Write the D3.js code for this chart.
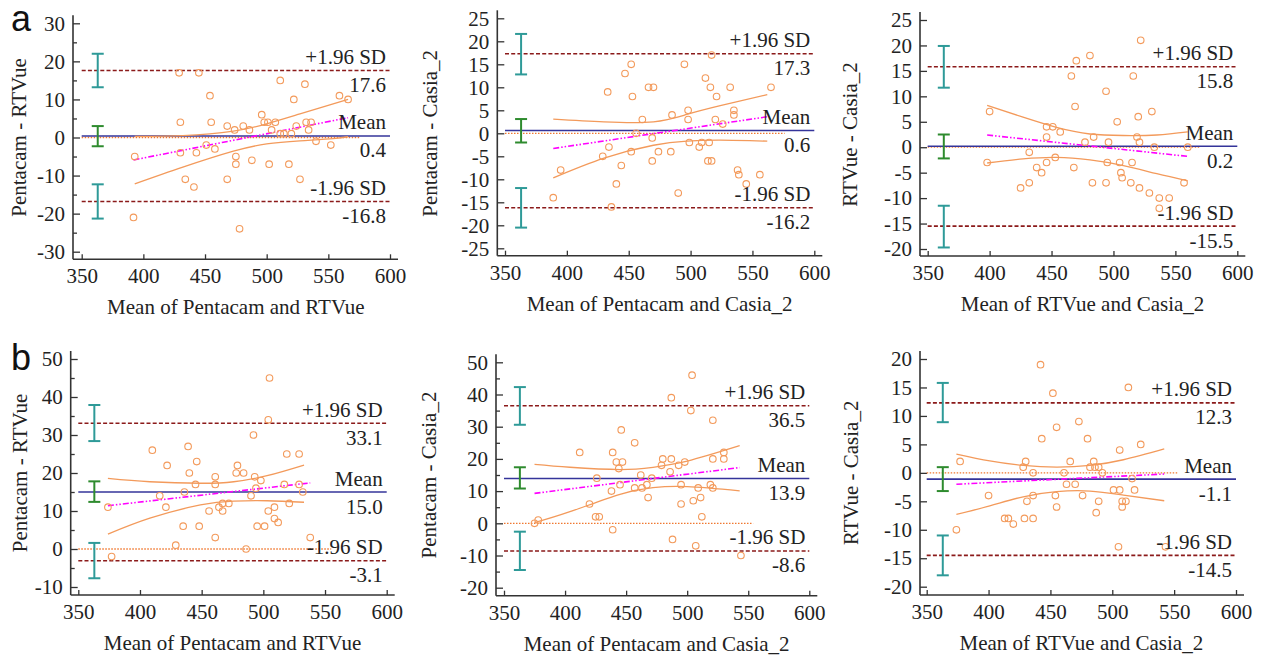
<!DOCTYPE html>
<html>
<head>
<meta charset="utf-8">
<script src="https://cdn.jsdelivr.net/npm/d3@7"></script>
<style>
  html, body { margin: 0; padding: 0; background: #fff; }
  svg { display: block; }
  text { font-family: "Liberation Serif", "Times New Roman", serif; fill: #222; }
</style>
</head>
<body>
<svg id="chart" width="1261" height="655"></svg>
<script>
// ---------------- DATA ----------------
const xTicks = [350, 400, 450, 500, 550, 600];
const xTitles = ["Mean of Pentacam and RTVue", "Mean of Pentacam and Casia_2", "Mean of RTVue and Casia_2",
                 "Mean of Pentacam and RTVue", "Mean of Pentacam and Casia_2", "Mean of RTVue and Casia_2"];
const yTitles = ["Pentacam - RTVue", "Pentacam - Casia_2", "RTVue - Casia_2",
                 "Pentacam - RTVue", "Pentacam - Casia_2", "RTVue - Casia_2"];
const yDomains = [[-30, 30], [-25, 25], [-20, 25], [-10, 50], [-20, 50], [-20, 20]];
const yMajorStep = [10, 5, 5, 10, 10, 5];
const yMinorStep = [5, 0, 0, 5, 5, 0];
const meanDiff = [0.4, 0.6, 0.2, 15.0, 13.9, -1.1];
const upperLoA = [17.6, 17.3, 15.8, 33.1, 36.5, 12.3];
const lowerLoA = [-16.8, -16.2, -15.5, -3.1, -8.6, -14.5];
// 95% CI of upper limit, of mean, of lower limit: [lo, hi]
const ciUpper = [[13.2, 22], [12.8, 21.6], [11.7, 19.9], [28.4, 37.9], [30.6, 42.3], [8.9, 15.8]];
const ciMean  = [[-2.3, 3], [-2, 3.1], [-2.2, 2.5], [12.4, 17.8], [10.8, 17.4], [-3.2, 1]];
const ciLower = [[-21.3, -12.3], [-20.5, -11.9], [-19.7, -11.5], [-7.7, 1.6], [-14.5, -2.6], [-18, -11]];
const ciBarX = 363;
const zeroLineEnd = [575, 576, 570, 555, 554, 553];

// regression line endpoints [x0, y0, x1, y1]
const regA1 = [392, -5.9, 566, 5.2];
const regA2 = [389, -3.3, 562, 3.6];
const regA3 = [398, 2.4, 560, -1.8];
const regB1 = [374, 11.4, 538, 17.4];
const regB2 = [375, 9.3, 543, 17.3];
const regB3 = [374, -2.0, 543, -0.2];

// regression 95% CI curves
const ciUpA1 = [[393, 0.3], [432, 0.5], [473, 1.7], [500, 3.6], [527, 6.2], [566, 10]];
const ciLoA1 = [[393, -12.2], [432, -7.8], [473, -3.6], [500, -1.7], [527, -0.9], [554, -0.3], [566, 0.2]];
const ciUpA2 = [[389, 3.1], [430, 2.5], [470, 2.5], [497, 4.1], [524, 6], [562, 8.4]];
const ciLoA2 = [[389, -9.7], [430, -5.4], [470, -2.6], [497, -1.7], [524, -1.5], [562, -1.7]];
const ciUpA3 = [[398, 8.2], [427, 5.9], [454, 3.9], [481, 2.6], [508, 2.3], [535, 2.4], [560, 3.0]];
const ciLoA3 = [[398, -3.1], [427, -2.3], [454, -2], [481, -2.5], [508, -3.6], [535, -5.2], [560, -6.6]];
const ciUpB1 = [[374, 18.6], [408, 17.7], [449, 17.3], [476, 17.7], [503, 19.3], [533, 22.1]];
const ciLoB1 = [[374, 3.9], [408, 8.1], [449, 11.6], [476, 12.6], [503, 12.7], [533, 12.3]];
const ciUpB2 = [[375, 18.3], [404, 17.4], [445, 16.7], [472, 17.4], [500, 19.3], [543, 24.1]];
const ciLoB2 = [[375, 0.2], [404, 3.6], [445, 9], [472, 11.1], [500, 11.4], [543, 10.1]];
const ciUpB3 = [[374, 3.3], [401, 2.1], [428, 1.3], [455, 1], [482, 1.3], [509, 2.3], [542, 4.2]];
const ciLoB3 = [[374, -7.3], [401, -5.8], [428, -4.2], [455, -3.3], [482, -3.2], [509, -3.9], [542, -4.9]];

// observations [mean of two methods, difference]
const ptsA1 = [[429,17],[445,17],[454,11],[430,4],[455,4],[430,-4],[443,-4],[451,-2],[458,-3],[434,-11],[441,-13],[393,-5],[392,-21],
  [468,3],[474,2],[481,3],[486,2],[475,-5],[475,-7],[468,-11],[488,-6],[478,-24],[496,6],[498,4],[501,4],[507,4],[504,2],[511,15],
  [502,-7],[511,1],[514,1],[518,-7],[520,1],[522,10],[524,3],[532,4],[536,4],[534,2],[531,14],[527,-11],[540,-1],[552,-2],[559,11],[566,10]];
const ptsA2 = [[389,-14],[395,-8],[433,9],[434,-3],[429,-5],[440,-11],[436,-16],[444,-7],[447,13],[452,15],[453,8],[452,-4],[456,0],
  [461,3],[466,10],[470,10],[469,-1],[469,-6],[474,-4],[484,-4],[485,4],[490,-13],[495,15],[498,5],[498,3],[499,-2],[507,-3],[509,-2],
  [515,-2],[512,12],[516,10],[517,17],[514,-6],[517,-6],[520,3],[521,8],[526,2],[532,10],[535,5],[535,4],[538,-8],[539,-9],[545,-11],[556,-9],[565,10]];
const ptsA3 = [[400,7],[398,-3],[432,-1],[432,-7],[425,-8],[438,-4],[442,-5],[446,-3],[446,2],[446,4],[451,4],[453,-2],[457,3],[466,14],
  [470,17],[469,8],[468,-4],[477,1],[481,18],[483,-7],[484,2],[494,11],[494,-7],[495,-3],[496,1],[503,5],[505,-3],[506,-5],[507,-6],
  [514,-7],[515,-3],[516,14],[520,6],[519,2],[521,1],[522,21],[521,-8],[529,-9],[531,7],[533,0],[537,-10],[537,-12],[545,-10],[557,-7],[560,0]];
const ptsB1 = [[374,11],[377,-2],[410,26],[416,14],[421,11],[422,22],[429,1],[435,6],[436,15],[439,27],[440,20],[445,17],[446,23],[448,6],
  [456,10],[461,19],[461,17],[461,3],[464,11],[467,12],[467,10],[472,12],[478,20],[479,22],[484,20],[486,0],[490,14],[492,30],[493,19],
  [494,16],[495,6],[498,18],[501,6],[504,34],[505,45],[504,10],[509,11],[509,8],[512,7],[517,17],[519,25],[521,12],[529,25],[529,17],[532,15],[538,3]];
const ptsB2 = [[375,0],[378,1],[412,22],[420,6],[425,2],[428,2],[426,14],[438,10],[439,22],[439,-2],[442,19],[444,17],[445,12],[446,29],
  [447,19],[457,11],[457,25],[462,15],[463,11],[467,12],[468,8],[471,14],[479,18],[480,20],[487,39],[487,20],[486,16],[488,-5],[493,18],
  [495,12],[495,6],[498,19],[503,35],[504,46],[505,7],[507,-7],[509,11],[511,8],[512,2],[519,12],[521,32],[521,20],[521,11],[530,22],[530,20],[544,-10]];
const ptsB3 = [[374,-10],[377,2],[400,-4],[413,-8],[416,-8],[420,-9],[428,1],[430,2],[429,-8],[431,-5],[436,0],[436,-4],[436,-8],[442,19],
  [443,6],[452,14],[454,-4],[455,8],[455,-6],[461,0],[463,-2],[466,2],[470,-2],[473,9],[476,-4],[480,6],[482,1],[485,2],[486,1],[489,1],
  [489,-5],[487,-7],[492,0],[501,-3],[506,-3],[506,4],[505,-13],[508,-5],[508,-6],[511,-5],[513,15],[516,-1],[518,-3],[523,5],[543,-13]];

const allPts = [ptsA1, ptsA2, ptsA3, ptsB1, ptsB2, ptsB3];
const allReg = [regA1, regA2, regA3, regB1, regB2, regB3];
const allCiUp = [ciUpA1, ciUpA2, ciUpA3, ciUpB1, ciUpB2, ciUpB3];
const allCiLo = [ciLoA1, ciLoA2, ciLoA3, ciLoB1, ciLoB2, ciLoB3];

// ---------------- LAYOUT (pixels) ----------------
// [x at 350, x at 600, y at top of domain, y at bottom of domain, x-axis line y, y-axis line x, y-title baseline x]
const layout = [
  [81.7, 390.0, 23.3, 251.7, 259.3, 73.0, 26],
  [505.0, 814.3, 18.3, 248.3, 255.7, 497.3, 437],
  [927.7, 1237.3, 20.0, 249.0, 256.0, 920.0, 857],
  [78.3, 386.7, 359.0, 587.0, 595.0, 70.7, 27],
  [504.0, 809.3, 362.3, 587.7, 595.7, 496.0, 436],
  [926.7, 1236.0, 359.0, 586.7, 595.0, 920.0, 858]
];

const C = {
  axis: "#333", text: "#222", pt: "#F39A5B", curve: "#F39A5B", mean: "#34349A",
  loa: "#8B1A1A", reg: "#FF00FF", zero: "#F07830", teal: "#2E9A98", green: "#2E8B2E"
};
const FS = 21;

const svg = d3.select("#chart");

// panel letters
svg.append("text").attr("x", 11).attr("y", 31).style("font-family", "'Liberation Sans', Arial, sans-serif")
  .style("font-size", "36px").style("fill", "#111").text("a");
svg.append("text").attr("x", 11).attr("y", 370).style("font-family", "'Liberation Sans', Arial, sans-serif")
  .style("font-size", "36px").style("fill", "#111").text("b");

for (let i = 0; i < 6; i++) {
  const [x350, x600, yTopPx, yBotPx, xAxisY, axisX, yTitleX] = layout[i];
  const [yMin, yMax] = yDomains[i];
  const x = d3.scaleLinear().domain([350, 600]).range([x350, x600]);
  const y = d3.scaleLinear().domain([yMin, yMax]).range([yBotPx, yTopPx]);
  const g = svg.append("g");

  // y axis
  const major = d3.range(yMin, yMax + 0.001, yMajorStep[i]);
  const yAx = d3.axisLeft(y).tickValues(major).tickSize(-7).tickPadding(8).tickFormat(d => String(d));
  const gy = g.append("g").attr("transform", `translate(${axisX},0)`).call(yAx);
  gy.select(".domain").remove();
  gy.selectAll(".tick line").attr("stroke", C.axis).attr("stroke-width", 1.3);
  gy.selectAll("text").style("font-size", FS + "px").style("font-family", "'Liberation Serif', serif").attr("fill", C.text);
  const minorVals = [];
  if (yMinorStep[i] > 0) {
    for (let v = yMin + yMinorStep[i]; v < yMax; v += yMajorStep[i]) minorVals.push(v);
  }
  const yMinor = d3.axisLeft(y).tickValues(minorVals).tickSize(-4).tickFormat("");
  const gym = g.append("g").attr("transform", `translate(${axisX},0)`).call(yMinor);
  gym.select(".domain").remove();
  gym.selectAll(".tick line").attr("stroke", C.axis).attr("stroke-width", 1.3);

  // x axis
  const xAx = d3.axisBottom(x).tickValues(xTicks).tickSize(-5).tickPadding(9).tickFormat(d => String(d));
  const gx = g.append("g").attr("transform", `translate(0,${xAxisY})`).call(xAx);
  gx.select(".domain").remove();
  gx.selectAll(".tick line").attr("stroke", C.axis).attr("stroke-width", 1.3);
  gx.selectAll("text").style("font-size", FS + "px").style("font-family", "'Liberation Serif', serif").attr("fill", C.text);

  // axis lines
  g.append("line").attr("x1", axisX).attr("x2", axisX).attr("y1", yTopPx - 8).attr("y2", xAxisY)
    .attr("stroke", C.axis).attr("stroke-width", 1.6);
  g.append("line").attr("x1", axisX).attr("x2", x600 + 8).attr("y1", xAxisY).attr("y2", xAxisY)
    .attr("stroke", C.axis).attr("stroke-width", 1.6);

  // axis titles
  g.append("text").attr("x", (x350 + x600) / 2).attr("y", xAxisY + 55).attr("text-anchor", "middle")
    .style("font-size", FS + "px").text(xTitles[i]);
  g.append("text").attr("transform", `translate(${yTitleX},${(yTopPx + yBotPx) / 2}) rotate(-90)`)
    .attr("text-anchor", "middle").style("font-size", FS + "px").text(yTitles[i]);

  // zero (equality) line
  g.append("line").attr("x1", x(350)).attr("x2", x(zeroLineEnd[i])).attr("y1", y(0)).attr("y2", y(0))
    .attr("stroke", C.zero).attr("stroke-width", 1.3).attr("stroke-dasharray", "1.5,1.5");

  // mean line
  g.append("line").attr("x1", x(350)).attr("x2", x(600)).attr("y1", y(meanDiff[i])).attr("y2", y(meanDiff[i]))
    .attr("stroke", C.mean).attr("stroke-width", 1.6);

  // limits of agreement
  [upperLoA[i], lowerLoA[i]].forEach(v => {
    g.append("line").attr("x1", x(350)).attr("x2", x(600)).attr("y1", y(v)).attr("y2", y(v))
      .attr("stroke", C.loa).attr("stroke-width", 1.6).attr("stroke-dasharray", "4,2.2");
  });

  // CI error bars
  const bars = [[ciUpper[i], C.teal], [ciMean[i], C.green], [ciLower[i], C.teal]];
  bars.forEach(([ci, col]) => {
    const bx = x(ciBarX);
    g.append("line").attr("x1", bx).attr("x2", bx).attr("y1", y(ci[0])).attr("y2", y(ci[1]))
      .attr("stroke", col).attr("stroke-width", 2);
    [ci[0], ci[1]].forEach(v => {
      g.append("line").attr("x1", bx - 6).attr("x2", bx + 6).attr("y1", y(v)).attr("y2", y(v))
        .attr("stroke", col).attr("stroke-width", 2);
    });
  });

  // regression CI curves
  const lineGen = d3.line().x(d => x(d[0])).y(d => y(d[1])).curve(d3.curveNatural);
  [allCiUp[i], allCiLo[i]].forEach(arr => {
    g.append("path").attr("d", lineGen(arr)).attr("fill", "none").attr("stroke", C.curve).attr("stroke-width", 1.3);
  });

  // regression line
  const r = allReg[i];
  g.append("line").attr("x1", x(r[0])).attr("y1", y(r[1])).attr("x2", x(r[2])).attr("y2", y(r[3]))
    .attr("stroke", C.reg).attr("stroke-width", 1.6).attr("stroke-dasharray", "6,2,1.5,2,1.5,2");

  // points
  g.append("g").selectAll("circle").data(allPts[i]).join("circle")
    .attr("cx", d => x(d[0])).attr("cy", d => y(d[1])).attr("r", 3.3)
    .attr("fill", "none").attr("stroke", C.pt).attr("stroke-width", 1.1);

  // labels
  const lx = x600 - 4;
  const labels = [["+1.96 SD", upperLoA[i]], ["Mean", meanDiff[i]], ["-1.96 SD", lowerLoA[i]]];
  labels.forEach(([name, v]) => {
    g.append("text").attr("x", lx).attr("y", y(v) - 6.5).attr("text-anchor", "end")
      .style("font-size", FS + "px").text(name);
    g.append("text").attr("x", lx).attr("y", y(v) + 21.5).attr("text-anchor", "end")
      .style("font-size", FS + "px").text(v.toFixed(1));
  });
}
</script>
</body>
</html>
